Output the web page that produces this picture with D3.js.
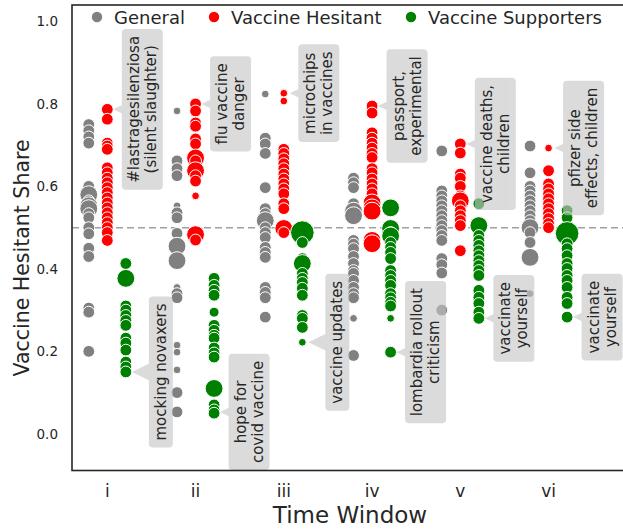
<!DOCTYPE html>
<html><head><meta charset="utf-8">
<script src="https://cdn.jsdelivr.net/npm/d3@7"></script>
<style>body{margin:0;background:#fff} svg{display:block;font-family:"DejaVu Sans",sans-serif}</style>
</head><body><svg id="c" width="623" height="529"></svg>
<script>
const windows = ["i","ii","iii","iv","v","vi"];
const groups = ["General","Vaccine Hesitant","Vaccine Supporters"];
const yTicks = [0.0,0.2,0.4,0.6,0.8,1.0];
const referenceShare = 0.5;

// per time window: [share, weight]
const generalPoints = [
 [[0.75,35],[0.735,35],[0.72,35],[0.705,35],[0.6,35],[0.58,80],[0.565,35],[0.553,80],[0.546,80],[0.534,35],[0.524,35],[0.5,35],[0.485,35],[0.45,35],[0.43,35],[0.305,35],[0.295,35],[0.2,35]],
 [[0.783,15],[0.662,35],[0.643,35],[0.626,35],[0.553,15],[0.536,35],[0.524,35],[0.486,35],[0.455,80],[0.42,80],[0.355,15],[0.34,35],[0.33,35],[0.215,15],[0.198,15],[0.155,15],[0.1,35],[0.053,35]],
 [[0.824,15],[0.717,35],[0.703,35],[0.68,35],[0.597,35],[0.546,35],[0.534,35],[0.517,80],[0.5,35],[0.488,35],[0.476,35],[0.452,35],[0.44,35],[0.428,35],[0.355,35],[0.343,35],[0.33,35],[0.283,35]],
 [[0.62,35],[0.609,35],[0.597,35],[0.558,35],[0.54,80],[0.529,80],[0.469,35],[0.46,35],[0.449,35],[0.43,35],[0.413,35],[0.396,35],[0.389,35],[0.372,35],[0.355,35],[0.34,35],[0.33,35],[0.28,15],[0.19,35]],
 [[0.686,35],[0.589,35],[0.577,35],[0.565,35],[0.553,35],[0.541,35],[0.529,35],[0.517,35],[0.505,35],[0.493,35],[0.481,35],[0.469,35],[0.425,35],[0.41,35],[0.39,35],[0.3,35]],
 [[0.698,35],[0.633,35],[0.6,35],[0.589,35],[0.577,35],[0.565,35],[0.553,35],[0.541,35],[0.529,35],[0.517,35],[0.5,80],[0.488,35],[0.464,35],[0.428,80],[0.34,15]]
];
const hesitantPoints = [
 [[0.787,35],[0.763,35],[0.705,35],[0.698,35],[0.69,35],[0.645,35],[0.633,35],[0.62,35],[0.609,35],[0.597,35],[0.585,35],[0.572,35],[0.56,35],[0.548,35],[0.536,35],[0.524,35],[0.512,35],[0.5,35],[0.488,35],[0.469,35]],
 [[0.80,35],[0.783,35],[0.754,35],[0.746,35],[0.715,35],[0.703,35],[0.669,80],[0.662,35],[0.638,80],[0.626,35],[0.613,35],[0.577,15],[0.483,80],[0.47,35]],
 [[0.826,15],[0.807,15],[0.69,35],[0.68,35],[0.667,35],[0.655,35],[0.643,35],[0.63,35],[0.618,35],[0.606,35],[0.594,35],[0.582,35],[0.558,35],[0.546,35],[0.498,80],[0.488,35]],
 [[0.795,35],[0.778,35],[0.73,35],[0.717,35],[0.705,35],[0.693,35],[0.68,35],[0.67,35],[0.643,35],[0.633,35],[0.618,35],[0.606,35],[0.594,35],[0.582,35],[0.56,80],[0.548,80],[0.54,80],[0.476,35],[0.469,80],[0.461,80]],
 [[0.703,35],[0.681,35],[0.63,35],[0.62,35],[0.6,35],[0.577,35],[0.565,80],[0.553,35],[0.541,35],[0.529,35],[0.517,35],[0.505,35],[0.444,35]],
 [[0.693,15],[0.638,35],[0.606,35],[0.594,35],[0.582,35],[0.57,35],[0.558,35],[0.546,35],[0.534,35],[0.522,35],[0.51,35],[0.5,35]]
];
const supportersPoints = [
 [[0.413,35],[0.377,80],[0.31,35],[0.30,35],[0.287,35],[0.275,35],[0.263,35],[0.232,35],[0.22,35],[0.203,35],[0.174,35],[0.162,35],[0.15,35]],
 [[0.377,35],[0.36,35],[0.348,35],[0.336,35],[0.295,25],[0.263,35],[0.251,35],[0.239,35],[0.232,35],[0.208,35],[0.196,35],[0.186,35],[0.11,80],[0.07,35],[0.058,35],[0.05,35]],
 [[0.488,140],[0.464,35],[0.425,35],[0.413,80],[0.389,35],[0.377,35],[0.367,35],[0.353,35],[0.336,35],[0.287,35],[0.28,35],[0.258,35],[0.222,15]],
 [[0.548,80],[0.498,80],[0.488,35],[0.48,80],[0.464,35],[0.452,35],[0.44,35],[0.425,35],[0.396,35],[0.384,35],[0.372,35],[0.36,35],[0.34,35],[0.33,35],[0.319,35],[0.31,35],[0.28,15],[0.198,35]],
 [[0.558,35],[0.505,80],[0.481,35],[0.469,35],[0.457,35],[0.444,35],[0.432,35],[0.42,35],[0.408,35],[0.396,35],[0.384,35],[0.348,35],[0.331,35],[0.316,35],[0.295,35],[0.28,35]],
 [[0.541,35],[0.524,35],[0.486,140],[0.461,35],[0.449,35],[0.432,35],[0.413,35],[0.401,35],[0.384,35],[0.372,35],[0.355,35],[0.331,35],[0.316,35],[0.283,35]]
];
// annotations: [window index, group index, share, text lines]
const annotations = [
 [0,1,0.787,["#lastragesilenziosa","(silent slaughter)"]],
 [0,2,0.15,["mocking novaxers"]],
 [1,1,0.80,["flu vaccine","danger"]],
 [1,2,0.053,["hope for","covid vaccine"]],
 [2,1,0.826,["microchips","in vaccines"]],
 [2,2,0.222,["vaccine updates"]],
 [3,1,0.795,["passport,","experimental"]],
 [3,2,0.198,["lombardia rollout","criticism"]],
 [4,1,0.703,["vaccine deaths,","children"]],
 [4,2,0.28,["vaccinate","yourself"]],
 [5,1,0.693,["pfizer side","effects, children"]],
 [5,2,0.283,["vaccinate","yourself"]]
];

const colors = ["#808080","#ff0000","#008000"];
const groupOffset = [-0.21, 0, 0.21];
const allPoints = [generalPoints, hesitantPoints, supportersPoints];
const textColor = "#262626";

const svg = d3.select("#c");
const L = 72, R = 628, T = 5, B = 470.5;
const x = d3.scaleLinear().domain([-0.4, 5.9]).range([L, R]);
const y = d3.scaleLinear().domain([-0.089, 1.04]).range([B, T]);
const r = d3.scaleSqrt().domain([0, 35]).range([0, 5.9]);

// reference line
svg.append("line").attr("x1", L).attr("x2", R)
  .attr("y1", y(referenceShare)).attr("y2", y(referenceShare))
  .attr("stroke", "#a0a0a0").attr("stroke-width", 1.5).attr("stroke-dasharray", "7,4");

// points
const pts = svg.append("g");
windows.forEach((w, wi) => {
  allPoints.forEach((gp, gi) => {
    pts.selectAll(null).data(gp[wi]).join("circle")
      .attr("cx", x(wi + groupOffset[gi]))
      .attr("cy", d => y(d[0]))
      .attr("r", d => r(d[1]))
      .attr("fill", colors[gi])
      .attr("stroke", "#fff").attr("stroke-width", 1);
  });
});

// annotations
const fs = 15, lineH = 17, padL = 7, padT = 3.5, offsetX = 35, wedgeW = 28, tipGap = 6;
annotations.forEach(([wi, gi, share, lines]) => {
  const tx = x(wi + groupOffset[gi]), ty = y(share);
  const cx = tx + offsetX, cy = ty;
  const tg = svg.append("g").attr("transform", `translate(${cx},${cy}) rotate(-90)`);
  const texts = lines.map((ln, k) => tg.append("text")
    .attr("x", 0).attr("y", (k - (lines.length - 1) / 2) * lineH)
    .attr("text-anchor", "middle").attr("dominant-baseline", "central")
    .attr("font-size", fs).attr("fill", textColor).text(ln));
  const len = d3.max(texts, t => t.node().getComputedTextLength()) + 2 * padL;
  const th = lines.length * lineH + 2 * padT;
  const bg = svg.insert("g", () => tg.node()).attr("opacity", 0.62);
  const dx = cx - tx, dy = cy - ty, dist = Math.hypot(dx, dy);
  const ux = dx / dist, uy = dy / dist;
  const px = tx + ux * tipGap, py = ty + uy * tipGap;
  bg.append("path").attr("d", d3.line()([
    [px, py], [cx - uy * wedgeW / 2, cy + ux * wedgeW / 2], [cx + uy * wedgeW / 2, cy - ux * wedgeW / 2]
  ]) + "Z").attr("fill", "#c6c6c6");
  bg.append("rect").attr("x", cx - th / 2).attr("y", cy - len / 2)
    .attr("width", th).attr("height", len).attr("rx", 4).attr("fill", "#c6c6c6");
});

// spines
svg.append("rect").attr("x", L).attr("y", T).attr("width", R - L).attr("height", B - T)
  .attr("fill", "none").attr("stroke", textColor).attr("stroke-width", 1.6);

// y ticks
svg.append("g").selectAll("text").data(yTicks).join("text")
  .attr("x", L - 14).attr("y", d => y(d)).attr("text-anchor", "end")
  .attr("dominant-baseline", "central").attr("font-size", 13.5).attr("fill", textColor)
  .text(d => d3.format(".1f")(d));
// x ticks
svg.append("g").selectAll("text").data(windows).join("text")
  .attr("x", (d, i) => x(i)).attr("y", 491).attr("text-anchor", "middle")
  .attr("dominant-baseline", "central").attr("font-size", 17).attr("fill", textColor)
  .text(d => d);

// axis titles
svg.append("text").attr("x", 350).attr("y", 523).attr("text-anchor", "middle")
  .attr("font-size", 23).attr("fill", textColor).text("Time Window");
svg.append("text").attr("transform", `translate(29,258) rotate(-90)`)
  .attr("text-anchor", "middle").attr("font-size", 20.5).attr("fill", textColor).text("Vaccine Hesitant Share");

// legend
const legX = [97, 214, 411];
const leg = svg.append("g");
groups.forEach((g, i) => {
  leg.append("circle").attr("cx", legX[i]).attr("cy", 17).attr("r", 5.2).attr("fill", colors[i]);
  leg.append("text").attr("x", legX[i] + 17).attr("y", 17).attr("dominant-baseline", "central")
    .attr("font-size", 18).attr("fill", textColor).text(g);
});
</script></body></html>
